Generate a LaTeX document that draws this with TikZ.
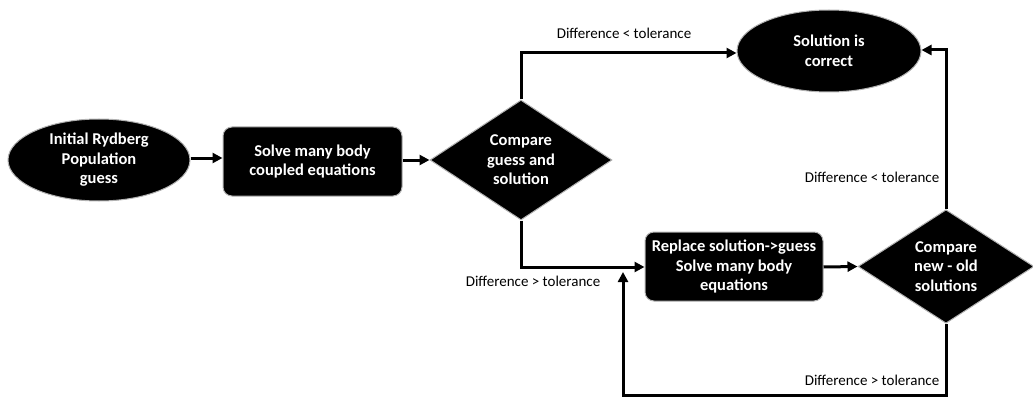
\documentclass[tikz,border=0pt]{standalone}
\usepackage{fontspec}
\setmainfont{Carlito}
\usetikzlibrary{shapes.geometric,arrows.meta}
\begin{document}
\begin{tikzpicture}[x=1pt,y=-1pt,
  nodetext/.style={text=white,font=\fontsize{16.5}{19.5}\selectfont\bfseries,align=center,inner sep=0pt,fill=black,draw=gray!60,line width=1pt},
  ell/.style={ellipse,nodetext},
  box/.style={rectangle,rounded corners=9pt,nodetext},
  dia/.style={diamond,nodetext},
  lbl/.style={font=\fontsize{15}{17}\selectfont,text=black,inner sep=0pt},
  conn/.style={line width=3pt,-{Triangle[length=10pt,width=10pt]}}]
\useasboundingbox (0,0) rectangle (1033,401);
\node[ell,minimum width=182pt,minimum height=82pt] (init) at (99,160) {Initial Rydberg\\Population\\guess};
\node[box,minimum width=179pt,minimum height=69pt] (solve) at (312.5,161.5) {Solve many body\\coupled equations};
\node[dia,minimum width=182pt,minimum height=120pt] (cmp1) at (521,160) {Compare\\guess and\\solution};
\node[ell,minimum width=184pt,minimum height=82pt] (ok) at (829,51) {Solution is\\correct};
\node[box,minimum width=178pt,minimum height=69pt] (repl) at (734,266.5) {Replace solution->guess\\Solve many body\\equations};
\node[dia,minimum width=176pt,minimum height=99pt] (cmp2) at (946,266.5) {Compare\\new - old\\solutions};
\coordinate (c1) at (521,53);
\coordinate (c2) at (521,267);
\coordinate (c3) at (946,50);
\coordinate (c4) at (946,395);
\coordinate (c5) at (623,395);
\coordinate (c6) at (623,272);
\draw[conn] (init.east |- 0,158) -- (solve.west |- 0,158);
\draw[conn] (solve.east |- 0,160) -- (cmp1.west);
\draw[conn] (cmp1.north) -- (c1) -- (ok.west |- c1);
\draw[conn] (cmp1.south) -- (c2) -- (repl.west |- c2);
\draw[conn] (repl.east |- 0,267) -- (cmp2.west);
\draw[conn] (cmp2.north) -- (c3) -- (ok.east |- c3);
\draw[conn] (cmp2.south) -- (c4) -- (c5) -- (c6);
\node[lbl] (l1) at (624,33) {Difference < tolerance};
\node[lbl] (l2) at (533,281) {Difference > tolerance};
\node[lbl] (l3) at (872,177) {Difference < tolerance};
\node[lbl] (l4) at (872,380) {Difference > tolerance};
\end{tikzpicture}
\end{document}
